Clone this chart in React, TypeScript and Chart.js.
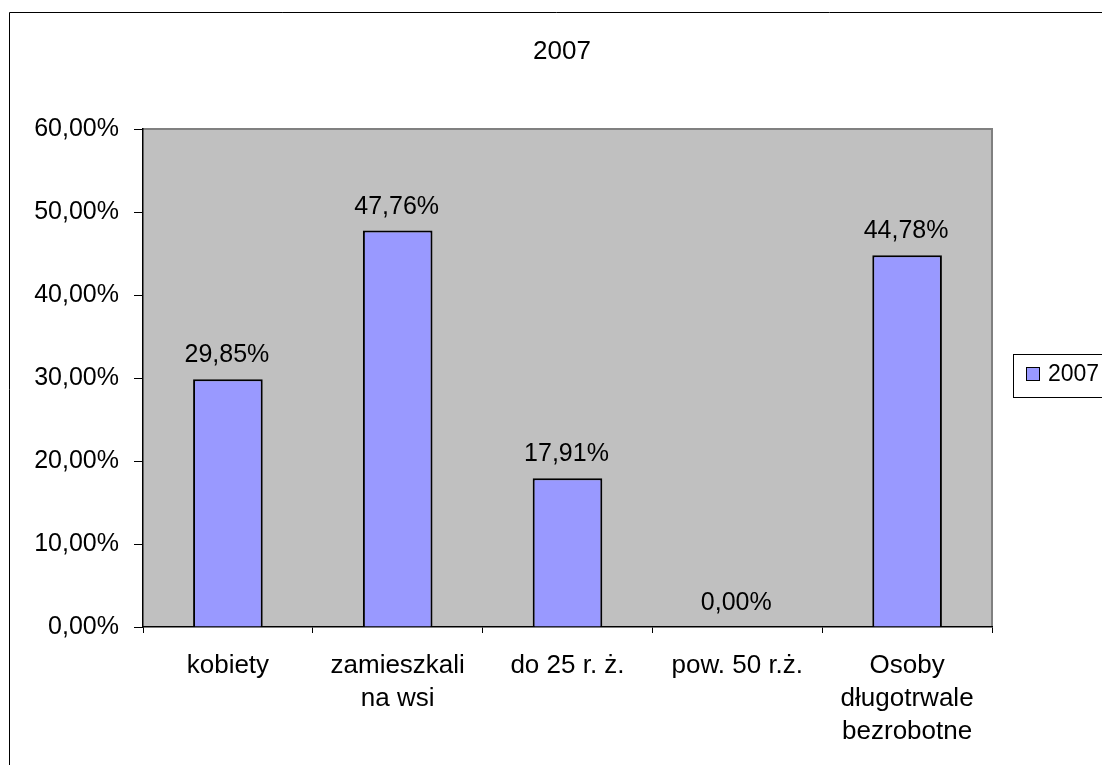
import React, { useEffect, useRef } from "react";
import { Chart, registerables } from "chart.js";

Chart.register(...registerables);

const categories: (string | string[])[] = [
  "kobiety",
  ["zamieszkali", "na wsi"],
  "do 25 r. ż.",
  "pow. 50 r.ż.",
  ["Osoby", "długotrwale", "bezrobotne"],
];
const values2007: number[] = [0.2985, 0.4776, 0.1791, 0.0, 0.4478];
const seriesName = "2007";
const titleText = "2007";
const yMin = 0;
const yMax = 0.6;
const yStep = 0.1;

const FONT = "'Liberation Sans', Arial, sans-serif";

const fmtPct = (v: number) => (v * 100).toFixed(2).replace(".", ",") + "%";

const decorPlugin = {
  id: "decor",
  beforeDraw(chart: any) {
    const { ctx, chartArea } = chart;
    ctx.save();
    ctx.fillStyle = "#ffffff";
    ctx.fillRect(0, 0, chart.width, chart.height);
    // outer frame
    ctx.strokeStyle = "#000000";
    ctx.lineWidth = 1;
    ctx.beginPath();
    ctx.moveTo(9.5, chart.height + 2);
    ctx.lineTo(9.5, 12.5);
    ctx.lineTo(chart.width + 2, 12.5);
    ctx.stroke();
    // plot background
    ctx.fillStyle = "#C0C0C0";
    ctx.fillRect(chartArea.left, chartArea.top, chartArea.right - chartArea.left, chartArea.bottom - chartArea.top);
    ctx.strokeStyle = "#808080";
    ctx.lineWidth = 2;
    ctx.beginPath();
    ctx.moveTo(chartArea.left, chartArea.top);
    ctx.lineTo(chartArea.right, chartArea.top);
    ctx.lineTo(chartArea.right, chartArea.bottom);
    ctx.stroke();
    ctx.restore();
  },
  afterDraw(chart: any) {
    const { ctx } = chart;
    ctx.save();
    // title
    ctx.fillStyle = "#000";
    ctx.font = `26px ${FONT}`;
    ctx.textAlign = "center";
    ctx.textBaseline = "middle";
    ctx.fillText(titleText, 562, 52);
    // data labels
    ctx.font = `25px ${FONT}`;
    ctx.textBaseline = "alphabetic";
    const meta = chart.getDatasetMeta(0);
    meta.data.forEach((bar: any, i: number) => {
      const v = chart.data.datasets[0].data[i] as number;
      ctx.fillText(fmtPct(v), bar.x - 1, bar.y - 17);
    });
    // legend
    ctx.fillStyle = "#fff";
    ctx.fillRect(1013, 354, 100, 43);
    ctx.strokeStyle = "#000";
    ctx.lineWidth = 1;
    ctx.strokeRect(1013.5, 354.5, 100, 43);
    ctx.fillStyle = "#9999FF";
    ctx.fillRect(1026, 367, 13, 13);
    ctx.strokeRect(1026.5, 367.5, 13, 13);
    ctx.fillStyle = "#000";
    ctx.font = `23px ${FONT}`;
    ctx.textAlign = "left";
    ctx.textBaseline = "middle";
    ctx.fillText(seriesName, 1048, 375);
    ctx.restore();
  },
};

export default function App() {
  const ref = useRef<HTMLCanvasElement>(null);
  useEffect(() => {
    if (!ref.current) return;
    const chart = new Chart(ref.current, {
      type: "bar",
      data: {
        labels: categories,
        datasets: [
          {
            label: seriesName,
            data: values2007,
            backgroundColor: "#9999FF",
            borderColor: "#000000",
            borderWidth: 2,
            categoryPercentage: 1,
            barPercentage: 0.41,
          },
        ],
      },
      options: {
        responsive: false,
        animation: false,
        events: [],
        layout: { padding: { left: 0, top: 129, right: 110, bottom: 0 } },
        plugins: {
          legend: { display: false },
          title: { display: false },
          tooltip: { enabled: false },
        },
        scales: {
          x: {
            grid: {
              offset: true,
              drawOnChartArea: false,
              drawTicks: true,
              tickLength: 6,
              color: "#000",
            },
            border: { display: true, color: "#000", width: 1.5 },
            ticks: {
              color: "#000",
              font: { family: FONT, size: 26, lineHeight: 1.27 },
              padding: 16,
              maxRotation: 0,
              autoSkip: false,
            },
            afterFit(scale: any) {
              scale.height = 138;
            },
          },
          y: {
            min: yMin,
            max: yMax,
            grid: {
              drawOnChartArea: false,
              drawTicks: true,
              tickLength: 9,
              color: "#000",
            },
            border: { display: true, color: "#000", width: 1.5 },
            ticks: {
              stepSize: yStep,
              color: "#000",
              font: { family: FONT, size: 25 },
              padding: 15,
              callback: (v: any) => fmtPct(Number(v)),
            },
            afterFit(scale: any) {
              scale.width = 143;
            },
          },
        },
      },
      plugins: [decorPlugin],
    });
    return () => chart.destroy();
  }, []);
  return (
    <div style={{ position: "fixed", left: 0, top: 0, width: 1102, height: 765 }}>
      <canvas ref={ref} width={1102} height={765} style={{ display: "block" }} />
    </div>
  );
}
